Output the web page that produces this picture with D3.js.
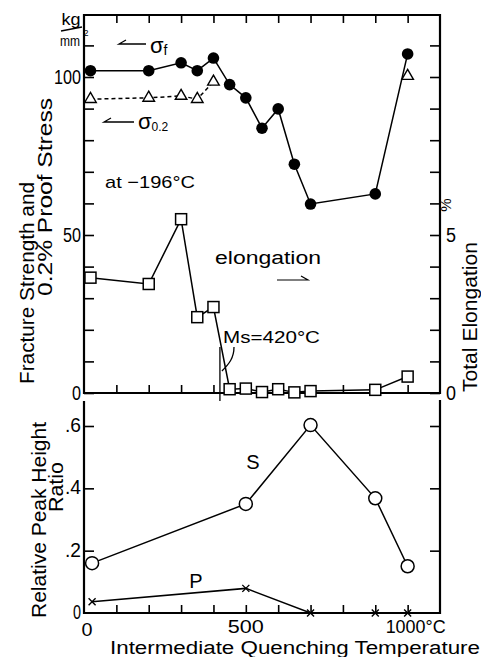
<!DOCTYPE html>
<html>
<head>
<meta charset="utf-8">
<script src="https://cdn.jsdelivr.net/npm/d3@7"></script>
<style>
  body { margin: 0; background: #fff; }
  svg { display: block; }
  text { font-family: "Liberation Sans", Arial, sans-serif; fill: #000; }
</style>
</head>
<body>
<svg id="chart" width="481" height="657"></svg>
<script>
// Quenching temperatures (°C) of the tensile specimens
const temps = [20, 200, 300, 350, 400, 450, 500, 550, 600, 650, 700, 900, 1000];
// Fracture strength σf (kg/mm²)
const fracture = [102, 102, 104.5, 102, 106, 97.6, 93.4, 83.8, 89.9, 72.4, 59.8, 63, 107.3];
// 0.2% proof stress σ0.2 (kg/mm²)
const proofTemps = [20, 200, 300, 350, 400, 1000];
const proofStress = [93, 93.4, 94, 93, 98.5, 100.3];
// Total elongation (%)
const elongation = [3.65, 3.45, 5.5, 2.4, 2.72, 0.12, 0.14, 0.03, 0.12, 0.02, 0.06, 0.1, 0.52];
// Relative X-ray peak height ratios
const ratioTemps = [25, 500, 700, 900, 1000];
const sRatio = [0.16, 0.35, 0.603, 0.368, 0.15];
const pRatio = [0.036, 0.079, 0, 0, 0];
// Tick labels
const strengthTicks = [0, 50, 100];
const elongTicks = [0, 5];
const ratioTicks = [0, 0.2, 0.4, 0.6];
const ratioTickLabels = ["0", ".2", ".4", ".6"];
const msTemp = 420;

const svg = d3.select("#chart");
const ink = "#000";

// Layout
const L = 84, R = 440;
const topY = 15, topBase = 393;
const botTop = 401, botBase = 613;

const x = d3.scaleLinear([0, 1100], [L, R]);
const yS = d3.scaleLinear([0, 100], [topBase, 77]);
const yE = d3.scaleLinear([0, 5], [topBase, 235]);
const yR = d3.scaleLinear([0, 0.6], [botBase, 426]);

function txt(s, px, py, o) {
  const t = svg.append("text")
    .attr("x", px).attr("y", py)
    .attr("font-size", o.size)
    .attr("text-anchor", o.anchor || "start");
  if (o.len) t.attr("textLength", o.len).attr("lengthAdjust", "spacingAndGlyphs");
  if (o.rot) t.attr("transform", `rotate(${o.rot},${px},${py})`);
  t.text(s);
  return t;
}

// ---------- frames ----------
svg.append("path")
  .attr("d", `M${L},${topY}H${R}V${topBase}H${L}Z`)
  .attr("fill", "none").attr("stroke", ink).attr("stroke-width", 2.2);
svg.append("path")
  .attr("d", `M${L},${botTop}V${botBase}H${R}V${botTop - 1}`)
  .attr("fill", "none").attr("stroke", ink).attr("stroke-width", 2.2);

// ---------- ticks via d3 axes ----------
function ticksOnly(axis, tx, ty) {
  const g = svg.append("g").attr("transform", `translate(${tx},${ty})`).call(axis);
  g.select(".domain").remove();
  g.selectAll("text").remove();
  g.selectAll("line").attr("stroke", ink).attr("stroke-width", 1.6);
  return g;
}
const hundreds = d3.range(100, 1001, 100);
ticksOnly(d3.axisLeft(yS).tickValues(d3.range(0, 111, 10)).tickSizeInner(-10).tickSizeOuter(0), L, 0);
ticksOnly(d3.axisRight(yE).tickValues(d3.range(0, 12, 1)).tickSizeInner(-10).tickSizeOuter(0), R, 0);
ticksOnly(d3.axisTop(x).tickValues(hundreds).tickSizeInner(-8).tickSizeOuter(0), 0, topY);
ticksOnly(d3.axisBottom(x).tickValues(hundreds).tickSizeInner(-8).tickSizeOuter(0), 0, topBase);
ticksOnly(d3.axisLeft(yR).tickValues(ratioTicks.slice(1)).tickSizeInner(-10).tickSizeOuter(0), L, 0);
ticksOnly(d3.axisRight(yR).tickValues(ratioTicks.slice(1)).tickSizeInner(-10).tickSizeOuter(0), R, 0);
ticksOnly(d3.axisBottom(x).tickValues(hundreds).tickSizeInner(-8).tickSizeOuter(0), 0, botBase);

// ---------- tick labels ----------
strengthTicks.forEach(v => {
  const s = String(v);
  txt(s, L - 3, yS(v) + 7, { size: 20, anchor: "end", len: s.length * 9 });
});
elongTicks.forEach(v => {
  txt(String(v), R + 6, yE(v) + 7, { size: 20, len: 10 });
});
txt("%", R + 11, 205, { size: 15, anchor: "middle", rot: -90 });
ratioTicks.forEach((v, i) => {
  const s = ratioTickLabels[i];
  txt(s, L - 3, yR(v) + 6, { size: 20, anchor: "end", len: s.length * 8 });
});
txt("0", x(0) + 3, 636, { size: 19, anchor: "middle", len: 11 });
txt("500", x(500), 633, { size: 19, anchor: "middle", len: 36 });
txt("1000°C", x(1000) - 22, 633, { size: 19, len: 60 });

// units
txt("kg", 71, 25, { size: 17, anchor: "middle", len: 19 });
svg.append("path").attr("d", "M61,31 L82,27").attr("stroke", ink).attr("stroke-width", 1.3);
txt("mm", 70, 46, { size: 15, anchor: "middle", len: 20 });
txt("2", 86, 36, { size: 9, anchor: "middle" });

// ---------- axis titles ----------
txt("Fracture Strength and", 34, 283, { size: 20, anchor: "middle", len: 202, rot: -90 });
txt("0.2% Proof Stress", 52, 197, { size: 20, anchor: "middle", len: 198, rot: -90 });
txt("Total Elongation", 477, 317, { size: 20, anchor: "middle", len: 150, rot: -90 });
txt("Relative Peak Height", 46, 520, { size: 20, anchor: "middle", len: 196, rot: -90 });
txt("Ratio", 63, 487, { size: 20, anchor: "middle", len: 50, rot: -90 });
txt("Intermediate Quenching Temperature", 295, 654, { size: 18, anchor: "middle", len: 370 });

// ---------- series lines ----------
function drawLine(pts, yFn, dash) {
  svg.append("path")
    .attr("d", d3.line().x(d => x(d[0])).y(d => yFn(d[1]))(pts))
    .attr("fill", "none").attr("stroke", ink).attr("stroke-width", 1.5)
    .attr("stroke-dasharray", dash || null);
}
const fracPts = temps.map((t, i) => [t, fracture[i]]);
const proofPts = proofTemps.map((t, i) => [t, proofStress[i]]);
const elongPts = temps.map((t, i) => [t, elongation[i]]);
const sPts = ratioTemps.map((t, i) => [t, sRatio[i]]);
const pPts = ratioTemps.map((t, i) => [t, pRatio[i]]);

drawLine(fracPts, yS);
drawLine(proofPts.slice(0, 5), yS, "4,3");
drawLine(elongPts, yE);
drawLine(sPts, yR);
drawLine(pPts, yR);

// Ms line and annotation
svg.append("line")
  .attr("x1", x(msTemp)).attr("x2", x(msTemp))
  .attr("y1", 347).attr("y2", botTop)
  .attr("stroke", ink).attr("stroke-width", 1.3);
svg.append("path")
  .attr("d", `M234,347 C234,358 229,364 ${x(msTemp) + 2},371`)
  .attr("fill", "none").attr("stroke", ink).attr("stroke-width", 1.3);

// ---------- markers ----------
svg.append("g").selectAll("circle").data(fracPts).join("circle")
  .attr("cx", d => x(d[0])).attr("cy", d => yS(d[1])).attr("r", 5.8).attr("fill", ink);

svg.append("g").selectAll("path").data(proofPts).join("path")
  .attr("transform", d => `translate(${x(d[0])},${yS(d[1])})`)
  .attr("d", d3.symbol(d3.symbolTriangle, 58))
  .attr("fill", "#fff").attr("stroke", ink).attr("stroke-width", 1.4);

svg.append("g").selectAll("rect").data(elongPts).join("rect")
  .attr("x", d => x(d[0]) - 5.5).attr("y", d => yE(d[1]) - 5.5)
  .attr("width", 11).attr("height", 11)
  .attr("fill", "#fff").attr("stroke", ink).attr("stroke-width", 1.5);

svg.append("g").selectAll("circle").data(sPts).join("circle")
  .attr("cx", d => x(d[0])).attr("cy", d => yR(d[1])).attr("r", 6.5)
  .attr("fill", "#fff").attr("stroke", ink).attr("stroke-width", 1.5);

svg.append("g").selectAll("path").data(pPts).join("path")
  .attr("transform", d => `translate(${x(d[0])},${yR(d[1])})`)
  .attr("d", "M-3.5,-3.5L3.5,3.5M-3.5,3.5L3.5,-3.5")
  .attr("fill", "none").attr("stroke", ink).attr("stroke-width", 1.4);

// ---------- annotations ----------
svg.append("path").attr("d", "M146,44H119l7,-4").attr("fill", "none").attr("stroke", ink).attr("stroke-width", 1.3);
const sf = txt("σ", 150, 53, { size: 22 });
sf.append("tspan").attr("font-size", 14).attr("dy", 2).text("f");

svg.append("path").attr("d", "M134,122H104l7,-4").attr("fill", "none").attr("stroke", ink).attr("stroke-width", 1.3);
const s02 = txt("σ", 138, 129, { size: 22 });
s02.append("tspan").attr("font-size", 12).attr("dy", 2).text("0.2");

txt("at −196°C", 105, 188, { size: 17, len: 90 });
txt("elongation", 215, 264, { size: 18, len: 106 });
svg.append("path").attr("d", "M277,280H308l-7,-4").attr("fill", "none").attr("stroke", ink).attr("stroke-width", 1.2);
txt("Ms=420°C", 223, 343, { size: 17, len: 97 });

txt("S", 253, 469, { size: 20, anchor: "middle" });
txt("P", 196, 588, { size: 20, anchor: "middle" });
</script>
</body>
</html>
